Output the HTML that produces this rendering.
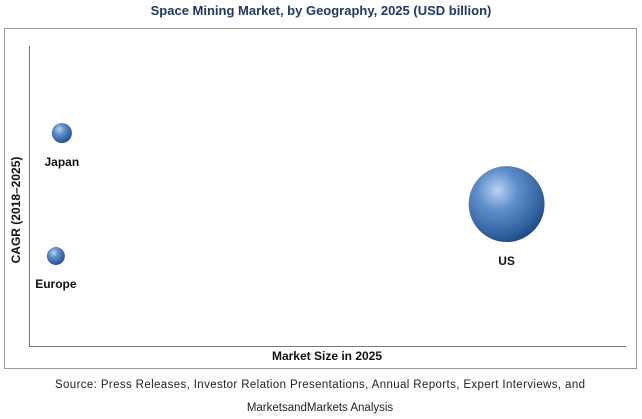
<!DOCTYPE html>
<html><head><meta charset="utf-8"><style>
body{margin:0;background:#fff;width:642px;height:419px;overflow:hidden;font-family:"Liberation Sans",sans-serif}
svg{display:block}
</style></head><body>
<svg width="642" height="419">
<defs>
<radialGradient id="g" cx="0.38" cy="0.32" r="0.75">
<stop offset="0" stop-color="#b9d3f0"/><stop offset="0.35" stop-color="#5f8fcb"/><stop offset="0.8" stop-color="#2f5f9e"/><stop offset="1" stop-color="#1f416f"/>
</radialGradient>
</defs>
<text x="321" y="15" text-anchor="middle" font-size="13" font-weight="bold" fill="#1f3864">Space Mining Market, by Geography, 2025 (USD billion)</text>
<rect x="4.5" y="28.5" width="632" height="340" fill="none" stroke="#9a9a9a"/>
<line x1="29.5" y1="46" x2="29.5" y2="346" stroke="#777"/>
<line x1="29" y1="346.5" x2="626" y2="346.5" stroke="#777"/>
<text x="0" y="0" transform="translate(20,210) rotate(-90)" text-anchor="middle" font-size="12" font-weight="bold" fill="#111">CAGR (2018–2025)</text>
<text x="327" y="360" text-anchor="middle" font-size="12" font-weight="bold" fill="#111">Market Size in 2025</text>
<g id="bubbles"></g>
<text x="320" y="388" text-anchor="middle" font-size="11.5" fill="#222" textLength="530">Source: Press Releases, Investor Relation Presentations, Annual Reports, Expert Interviews, and</text>
<text x="320" y="411" text-anchor="middle" font-size="11.5" fill="#222">MarketsandMarkets Analysis</text>
</svg>
<script>
const regions = ["Japan", "Europe", "US"];
const xValues = [5.5, 4.5, 80];
const yValues = [71, 30, 47.3];
const sizes = [0.7, 0.56, 10];
const xs = v => 29 + v / 100 * 597;
const ys = v => 346 - v / 100 * 300;
const rs = v => 12 * Math.sqrt(v);
const g = document.getElementById('bubbles');
const NS = 'http://www.w3.org/2000/svg';
regions.forEach((name, i) => {
  const cx = xs(xValues[i]), cy = ys(yValues[i]), r = rs(sizes[i]);
  const c = document.createElementNS(NS, 'circle');
  c.setAttribute('cx', cx); c.setAttribute('cy', cy); c.setAttribute('r', r);
  c.setAttribute('fill', 'url(#g)');
  
  
  g.appendChild(c);
  const t = document.createElementNS(NS, 'text');
  t.setAttribute('x', cx); t.setAttribute('y', cy + r + 23);
  t.setAttribute('text-anchor', 'middle'); t.setAttribute('font-size', '12');
  t.setAttribute('font-weight', 'bold'); t.setAttribute('fill', '#111');
  t.textContent = name;
  
  
  g.appendChild(t);
});
</script>
</body></html>
